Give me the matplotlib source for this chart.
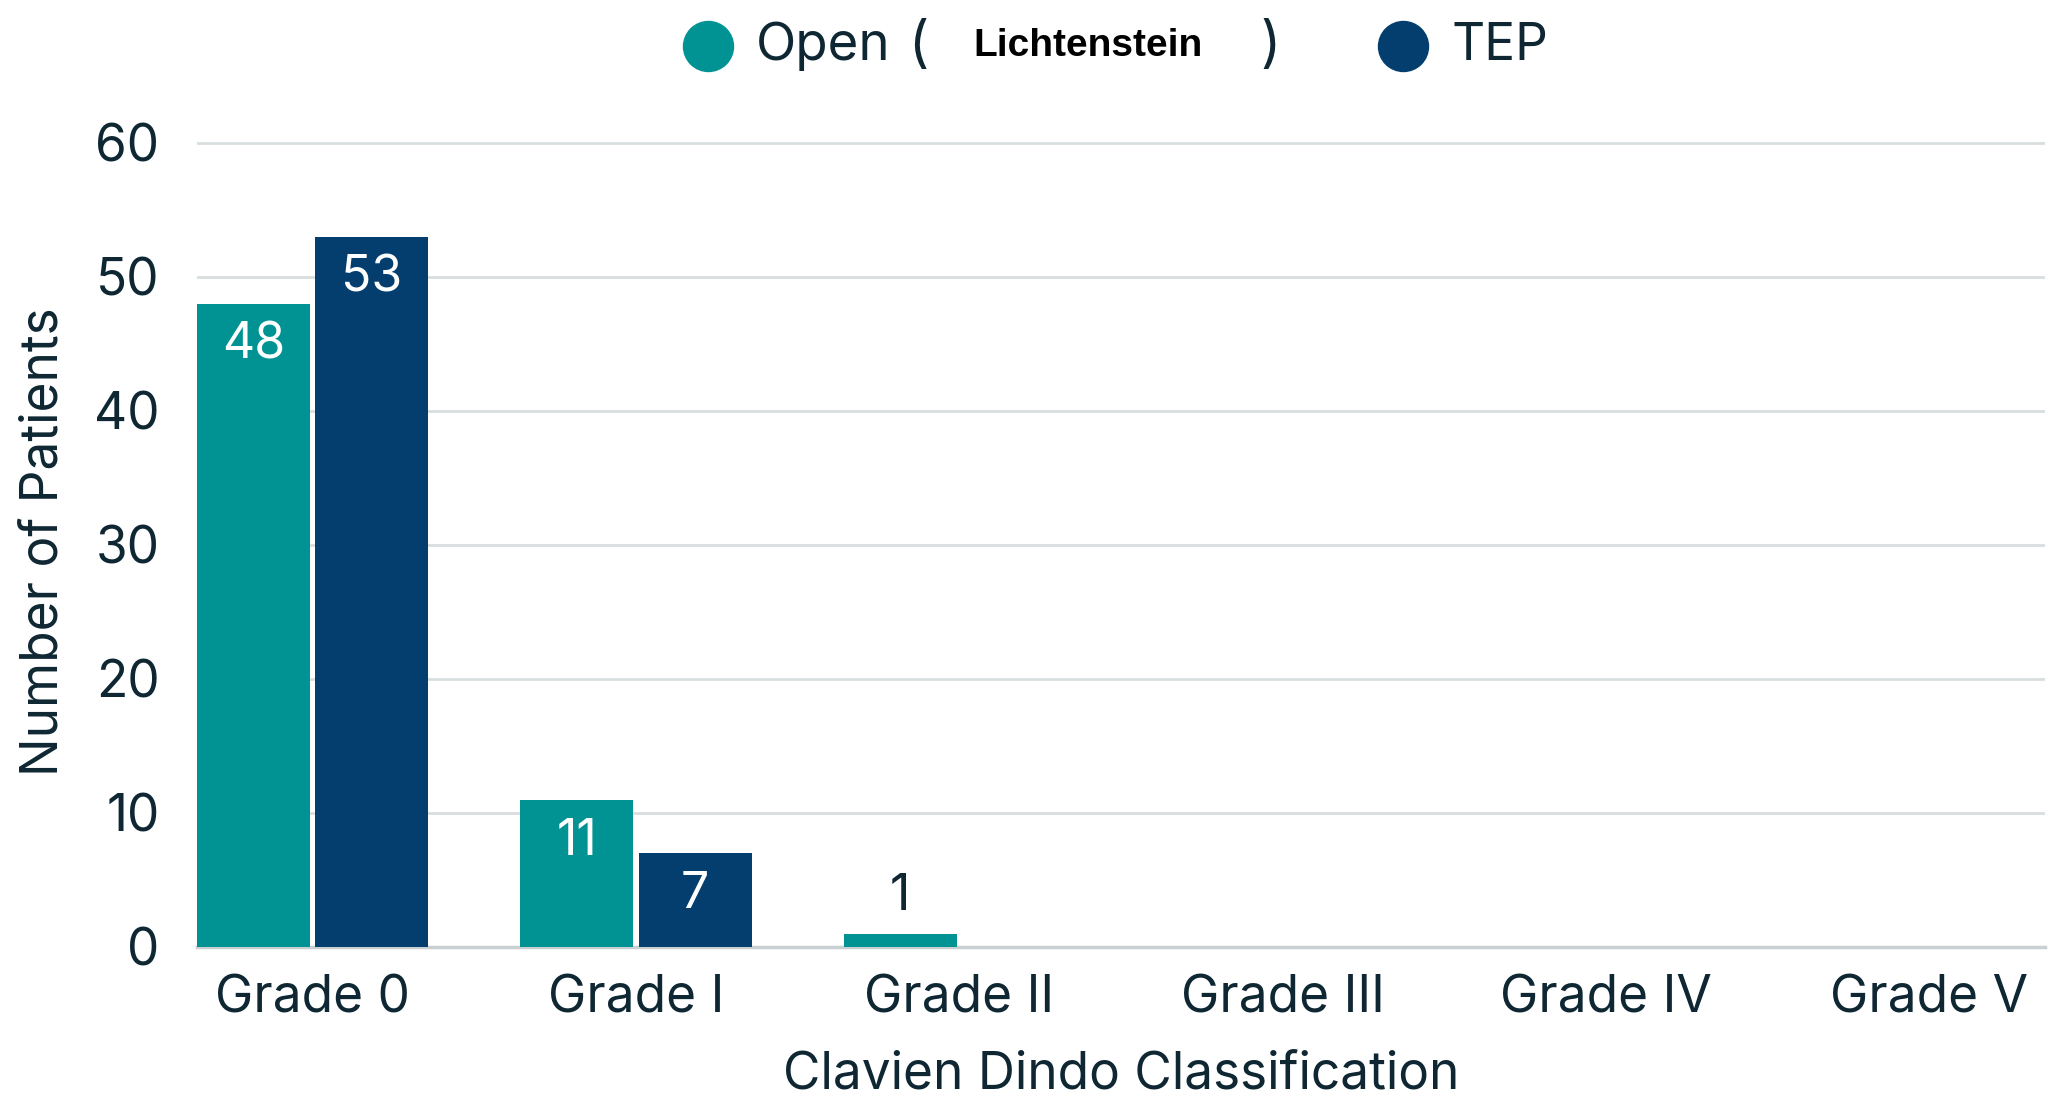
import numpy as np
import matplotlib
matplotlib.use("Agg")
import matplotlib.pyplot as plt
from matplotlib.lines import Line2D

# datos
grados = ["Grade 0", "Grade I", "Grade II", "Grade III", "Grade IV", "Grade V"]
open_lichtenstein = [48, 11, 1, 0, 0, 0]
tep = [53, 7, 0, 0, 0, 0]
etiquetas_y = [0, 10, 20, 30, 40, 50, 60]

color_open = "#019393"
color_tep = "#033E6E"
color_texto = "#0E2733"
color_grid = "#D8DEDF"

plt.rcParams["font.family"] = ["Inter", "DejaVu Sans"]

fig = plt.figure(figsize=(20.56, 11.01), dpi=100)
ax = fig.add_axes([0.0958, 0.1399, 0.8988, 0.7366])

x = np.arange(len(grados))
ancho = 0.35
desp = 0.183

barras_open = ax.bar(x - desp, open_lichtenstein, ancho, color=color_open, zorder=3)
barras_tep = ax.bar(x + desp, tep, ancho, color=color_tep, zorder=3)

# etiquetas de valor: dentro de la barra si cabe, si no encima
def etiquetar(barras, valores):
    for b, v in zip(barras, valores):
        if v == 0:
            continue
        cx = b.get_x() + b.get_width() / 2
        if v >= 5:
            ax.annotate(str(v), (cx, v), xytext=(0, -30), textcoords="offset points",
                        ha="center", va="center", fontsize=36, color="white", zorder=4)
        else:
            ax.annotate(str(v), (cx, v), xytext=(0, 27), textcoords="offset points",
                        ha="center", va="center", fontsize=36, color=color_texto, zorder=4)

etiquetar(barras_open, open_lichtenstein)
etiquetar(barras_tep, tep)

ax.set_xlim(-0.358, len(grados) - 1 + 0.358)
ax.set_ylim(0, 60.5)
ax.set_yticks(etiquetas_y)
ax.set_xticks(x)
ax.set_xticklabels(grados)
ax.tick_params(axis="both", length=0, labelsize=37, colors=color_texto)
ax.tick_params(axis="y", pad=27)
ax.tick_params(axis="x", pad=20)

ax.grid(axis="y", color=color_grid, linewidth=2, zorder=0)
for s in ["top", "right", "left"]:
    ax.spines[s].set_visible(False)
ax.spines["bottom"].set_color("#C9D0D2")
ax.spines["bottom"].set_linewidth(2.5)

ax.set_ylabel("Number of Patients", fontsize=37, color=color_texto, labelpad=18)
ax.set_xlabel("Clavien Dindo Classification", fontsize=37, color=color_texto, labelpad=19)

# leyenda dibujada a mano (mezcla de fuentes)
y_ley = 1 - 46 / 1101
fig.add_artist(Line2D([708 / 2056], [y_ley], marker="o", markersize=36,
                      color=color_open, transform=fig.transFigure))
fig.add_artist(Line2D([1403 / 2056], [y_ley], marker="o", markersize=36,
                      color=color_tep, transform=fig.transFigure))
fig.text(756 / 2056, y_ley, "Open", fontsize=38, color=color_texto, va="center", ha="left")
fig.text(908 / 2056, y_ley, "(", fontsize=40, color=color_texto, va="center", ha="left")
fig.text(1088 / 2056, y_ley, "Lichtenstein", fontsize=28, color="black",
         family="Liberation Sans", weight="bold", va="center", ha="center")
fig.text(1260 / 2056, y_ley, ")", fontsize=40, color=color_texto, va="center", ha="left")
fig.text(1451 / 2056, y_ley, "TEP", fontsize=37, color=color_texto, va="center", ha="left")

fig.savefig("out.png", dpi=100, facecolor="white")
